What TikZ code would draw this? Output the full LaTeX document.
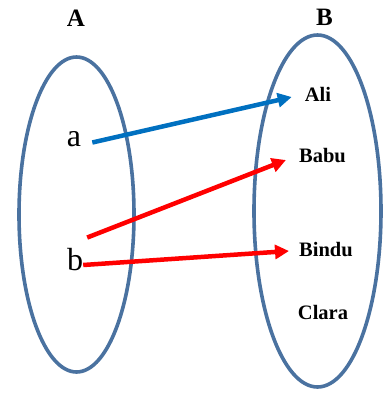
\documentclass[tikz,border=0pt]{standalone}
\usepackage{fontspec}
\setmainfont{Liberation Serif}
\usetikzlibrary{arrows.meta,shapes.geometric}
\definecolor{ellc}{RGB}{74,114,160}
\definecolor{arrblue}{RGB}{0,112,192}
\definecolor{arrred}{RGB}{255,0,0}
\begin{document}
\begin{tikzpicture}[x=1pt,y=-1pt,
  setellipse/.style={ellipse,draw=ellc,line width=3.6pt,inner sep=0},
  settitle/.style={font=\fontsize{25}{25}\selectfont\bfseries,inner sep=0},
  elemtext/.style={font=\fontsize{32}{32}\selectfont,inner sep=0},
  membertext/.style={font=\fontsize{20.5}{20.5}\selectfont\bfseries,inner sep=0},
  conn/.style={line width=4.5pt,-{Triangle[length=14pt,width=14pt]}}]
\useasboundingbox (0,0) rectangle (391,394);
\node[setellipse,minimum width=115pt,minimum height=315pt] (setA) at (76.5,214.5) {};
\node[setellipse,minimum width=127pt,minimum height=352pt] (setB) at (317.5,211) {};
\node[settitle] (tA) at (76,18.5) {A};
\node[settitle] (tB) at (324.5,17) {B};
\node[elemtext] (a) at (74,139.5) {a};
\node[elemtext] (b) at (75,260) {b};
\node[membertext] (ali) at (318,94.5) {Ali};
\node[membertext] (babu) at (322.5,155.5) {Babu};
\node[membertext] (bindu) at (326,250) {Bindu};
\node[membertext] (clara) at (323,312) {Clara};
\draw[conn,arrblue] ([shift={(11,3)}]a.east) -- ([shift={(-13,2.5)}]ali.west);
\draw[conn,arrred] ([shift={(4,-11)}]b.north east) -- ([shift={(-13,4.5)}]babu.west);
\draw[conn,arrred] ([shift={(0,5)}]b.east) -- ([shift={(-10,1)}]bindu.west);
\end{tikzpicture}
\end{document}
